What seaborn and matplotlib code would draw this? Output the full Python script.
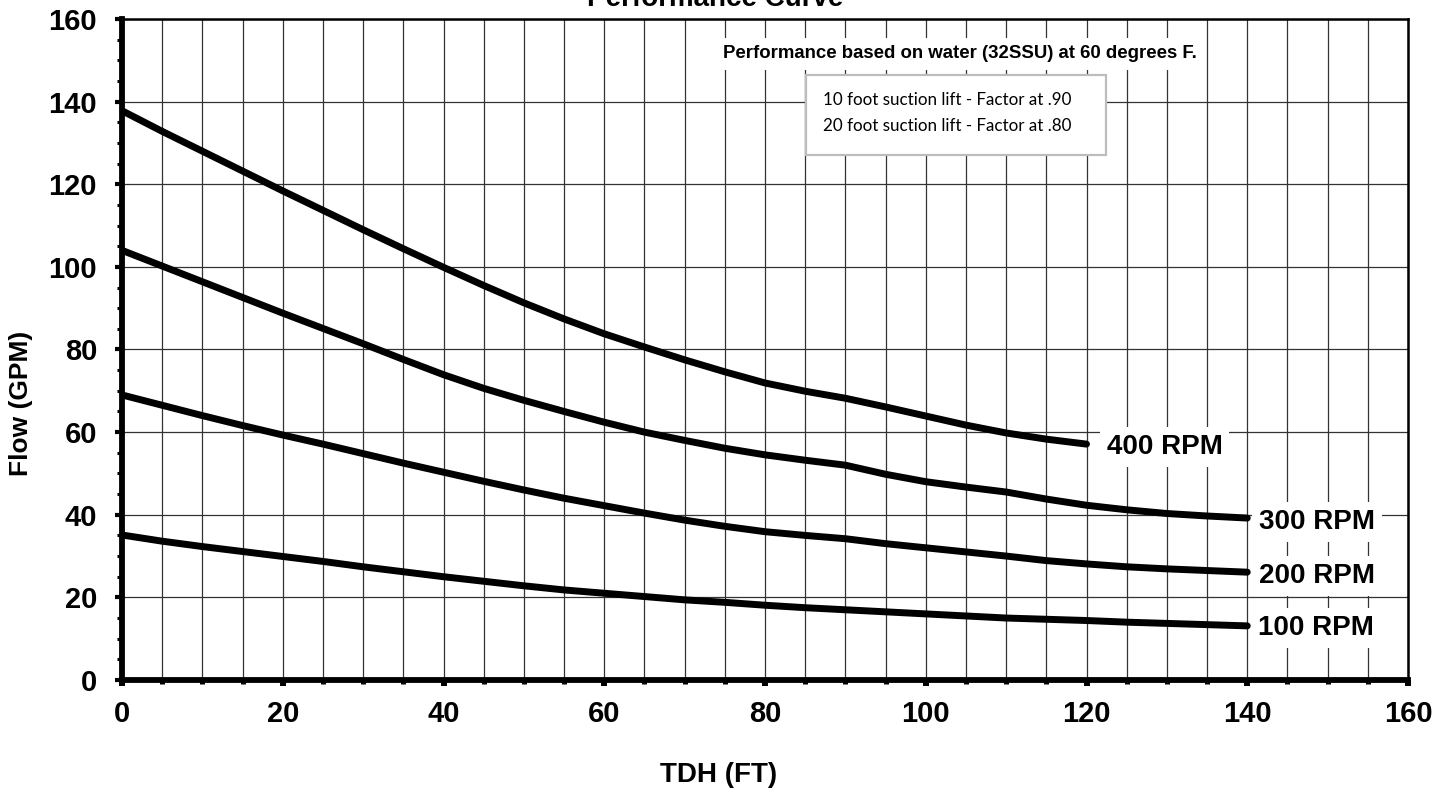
import matplotlib
matplotlib.use("Agg")
import matplotlib.pyplot as plt
import matplotlib.patches as mpatches
from matplotlib.ticker import MultipleLocator
import numpy as np
import pandas as pd
import seaborn as sns

# ---------------- data ----------------
tdh_400 = [0, 5, 10, 15, 20, 25, 30, 35, 40, 45, 50, 55, 60, 65, 70, 75, 80, 85, 90, 95, 100, 105, 110, 115, 120]
flow_400 = [137.8, 132.8, 128.0, 123.2, 118.4, 113.7, 109.0, 104.4, 99.9, 95.5, 91.3, 87.4, 83.8,
            80.6, 77.5, 74.6, 71.9, 69.9, 68.2, 66.1, 63.9, 61.7, 59.8, 58.3, 57.1]

tdh_all = [0, 5, 10, 15, 20, 25, 30, 35, 40, 45, 50, 55, 60, 65, 70, 75, 80, 85, 90, 95, 100,
           105, 110, 115, 120, 125, 130, 135, 140]
flow_300 = [104.0, 100.2, 96.4, 92.6, 88.8, 85.1, 81.4, 77.6, 73.9, 70.6, 67.7, 65.0, 62.4,
            60.0, 58.0, 56.1, 54.5, 53.2, 52.0, 49.8, 48.0, 46.7, 45.5, 43.8, 42.3, 41.2, 40.3, 39.7, 39.2]
flow_200 = [69.0, 66.5, 64.0, 61.6, 59.3, 57.1, 54.8, 52.5, 50.3, 48.1, 46.0, 44.0, 42.2,
            40.4, 38.7, 37.2, 35.9, 35.0, 34.2, 33.0, 32.0, 31.0, 30.0, 28.9, 28.1, 27.4, 26.9, 26.5, 26.1]
flow_100 = [35.1, 33.6, 32.3, 31.1, 29.9, 28.7, 27.4, 26.2, 25.0, 23.9, 22.8, 21.8, 21.0,
            20.2, 19.4, 18.8, 18.1, 17.5, 17.0, 16.5, 16.0, 15.5, 15.0, 14.7, 14.4, 14.0, 13.7, 13.4, 13.1]

series_names = ["400 RPM", "300 RPM", "200 RPM", "100 RPM"]
x_ticks = [0, 20, 40, 60, 80, 100, 120, 140, 160]
y_ticks = [0, 20, 40, 60, 80, 100, 120, 140, 160]

title_text = "Performance Curve"
note_text = "Performance based on water (32SSU) at 60 degrees F."
box_lines = ["10 foot suction lift - Factor at .90", "20 foot suction lift - Factor at .80"]
x_label = "TDH (FT)"
y_label = "Flow (GPM)"

df = pd.concat([
    pd.DataFrame({"TDH": tdh_400, "Flow": flow_400, "Speed": series_names[0]}),
    pd.DataFrame({"TDH": tdh_all, "Flow": flow_300, "Speed": series_names[1]}),
    pd.DataFrame({"TDH": tdh_all, "Flow": flow_200, "Speed": series_names[2]}),
    pd.DataFrame({"TDH": tdh_all, "Flow": flow_100, "Speed": series_names[3]}),
], ignore_index=True)

# ---------------- style ----------------
sns.set_style("white")
plt.rcParams["font.family"] = ["Liberation Sans", "DejaVu Sans"]
plt.rcParams["text.color"] = "black"
plt.rcParams["axes.labelcolor"] = "black"
plt.rcParams["xtick.color"] = "black"
plt.rcParams["ytick.color"] = "black"

W, H, DPI = 1451, 795, 100
fig = plt.figure(figsize=(W / DPI, H / DPI), dpi=DPI)
ax = fig.add_axes([122 / W, 1 - 680 / H, (1408 - 122) / W, (680 - 19) / H])

sns.lineplot(data=df, x="TDH", y="Flow", hue="Speed", hue_order=series_names,
             palette={n: "black" for n in series_names}, linewidth=5.0,
             legend=False, ax=ax, sort=True, estimator=None,
             solid_capstyle="round", solid_joinstyle="round", zorder=5)

ax.set_xlim(0, 160)
ax.set_ylim(0, 160)
ax.set_xticks(x_ticks)
ax.set_yticks(y_ticks)
ax.xaxis.set_minor_locator(MultipleLocator(5))
ax.yaxis.set_minor_locator(MultipleLocator(5))
ax.set_xticklabels([str(v) for v in x_ticks], fontsize=21, fontweight="bold", color="black")
ax.set_yticklabels([str(v) for v in y_ticks], fontsize=21, fontweight="bold", color="black")

ax.tick_params(axis="x", which="major", direction="out", length=4.5, width=4.3, pad=10, color="black")
ax.tick_params(axis="x", which="minor", direction="out", length=3, width=3.6, color="black")
ax.tick_params(axis="y", which="major", direction="out", length=5, width=3, pad=13, color="black")
ax.tick_params(axis="y", which="minor", direction="out", length=3.6, width=2.2, color="black")
ax.tick_params(bottom=True, left=True, top=False, right=False, which="both")

# grid: vertical every 5, horizontal every 20
ax.grid(False)
ax.xaxis.grid(True, which="both", color="#333333", linewidth=0.9)
ax.yaxis.grid(True, which="major", color="#333333", linewidth=0.9)
ax.set_axisbelow(True)

for side in ["left", "bottom"]:
    ax.spines[side].set_linewidth(4.2)
    ax.spines[side].set_color("black")
    ax.spines[side].set_zorder(6)
for side in ["top", "right"]:
    ax.spines[side].set_linewidth(1.8)
    ax.spines[side].set_color("black")
    ax.spines[side].set_visible(True)

ax.set_xlabel(x_label, fontsize=20, fontweight="bold", va="center", color="black")
ax.xaxis.set_label_coords((719 - 122) / 1286, (680 - 775) / 661)
ax.set_ylabel(y_label, fontsize=19, fontweight="bold", va="center", color="black")
ax.yaxis.set_label_coords((21 - 122) / 1286, (680 - 403.5) / 661)

# title (partially cut at the top edge, as in the reference)
fig.text(715 / W, 1 - 6 / H, title_text, ha="center", va="baseline",
         fontsize=20, fontweight="bold", color="black")

# note text
ax.text((960 - 122) / 1286, (680 - 54) / 661, note_text, transform=ax.transAxes,
        ha="center", va="center", fontsize=13.4, fontweight="bold", zorder=7, color="black",
        bbox=dict(boxstyle="square,pad=0.4", facecolor="white", edgecolor="none"))

# factor box
rect = mpatches.Rectangle(((806 - 122) / 1286, (680 - 155) / 661),
                          (1106 - 806) / 1286, (155 - 75) / 661,
                          transform=ax.transAxes, facecolor="white",
                          edgecolor="#bdbdbd", linewidth=1.6, zorder=7)
ax.add_patch(rect)
for i, line in enumerate(box_lines):
    ax.text((823 - 122) / 1286, (680 - (100 + 26 * i)) / 661, line, transform=ax.transAxes,
            ha="left", va="center", fontsize=12.25, family=["Lato", "DejaVu Sans"],
            zorder=8, color="black")

# RPM labels at ends of curves
ends = [(tdh_400[-1], flow_400[-1]), (tdh_all[-1], flow_300[-1]),
        (tdh_all[-1], flow_200[-1]), (tdh_all[-1], flow_100[-1])]
offsets = [(14.5, -2), (8.5, -3), (8.5, -3), (7.5, -1.5)]
for name, (ex, ey), (dx, dy) in zip(series_names, ends, offsets):
    ax.annotate(name, xy=(ex, ey), xytext=(dx, dy), textcoords="offset points",
                ha="left", va="center", fontsize=20, fontweight="bold", zorder=9,
                annotation_clip=False, color="black",
                bbox=dict(boxstyle="square,pad=0.25", facecolor="white", edgecolor="none"))

fig.savefig("out.png", dpi=DPI)
